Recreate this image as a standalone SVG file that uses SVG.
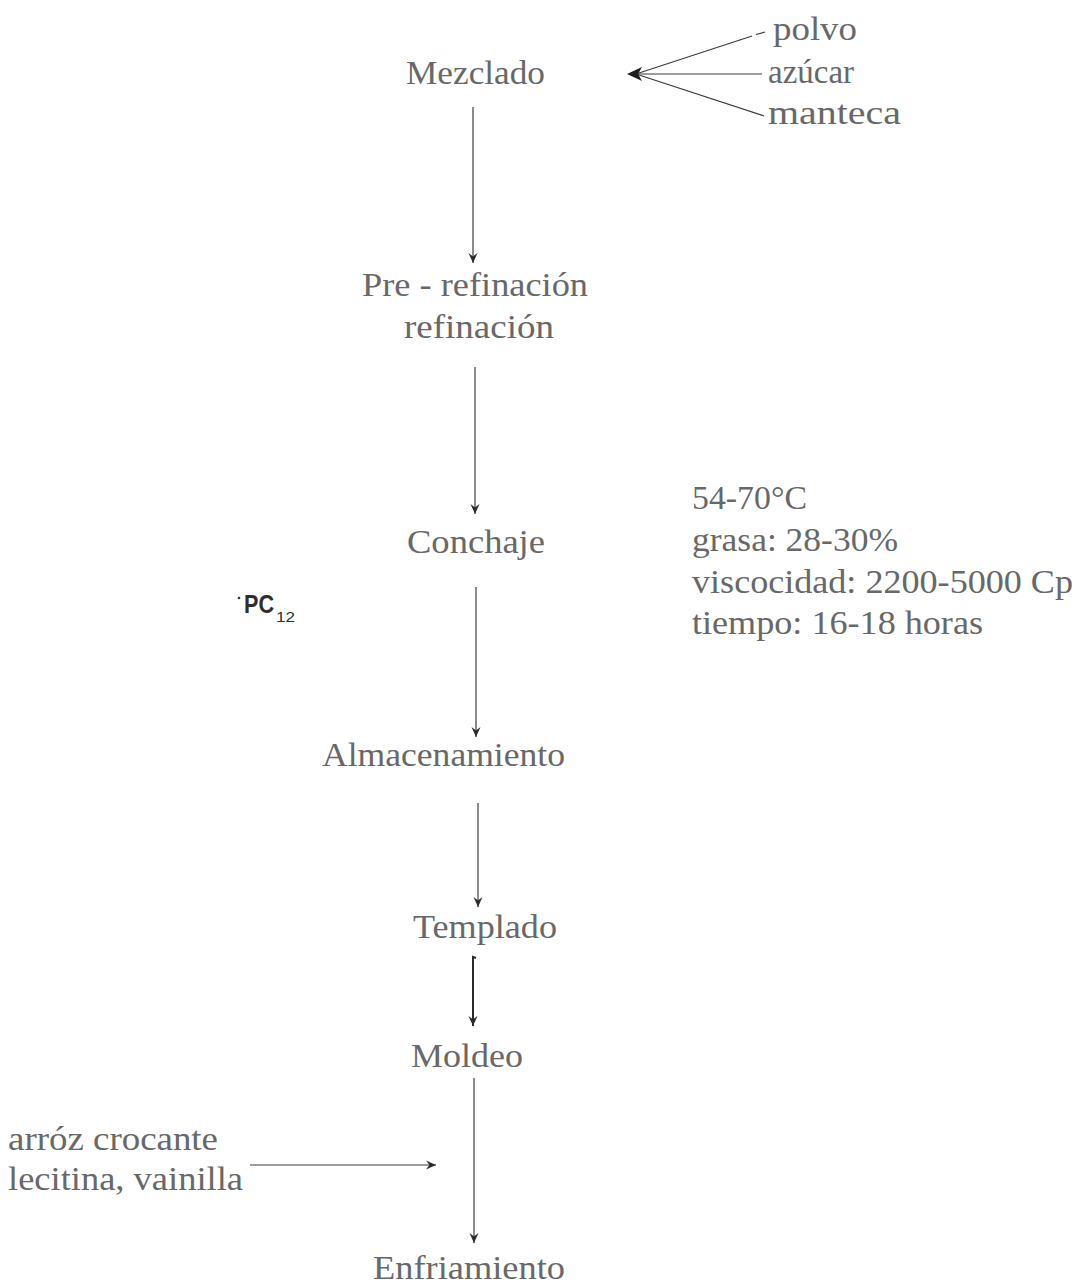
<svg xmlns="http://www.w3.org/2000/svg" width="1082" height="1286" viewBox="0 0 1082 1286">
<defs>
<style>
.t{font-family:"Liberation Serif","Times New Roman",serif;font-size:33px;fill:#686868}
.c{stroke:#3c3c3c;stroke-width:1.2;fill:none}
.b{stroke:#2a2a2a;stroke-width:2;fill:none}
.hw{font-family:"Liberation Sans",Arial,sans-serif;fill:#2e2e2e}
</style>
<marker id="ah" markerUnits="userSpaceOnUse" markerWidth="12" markerHeight="10" refX="10" refY="5" orient="auto">
<path d="M0,0.5 L10,5 L0,9.5 L3.5,5 Z" fill="#2a2a2a"/>
</marker>
</defs>
<rect width="1082" height="1286" fill="#fff"/>
<g id="connectors">
<line class="c" x1="473" y1="107" x2="473" y2="263" marker-end="url(#ah)"/>
<line class="c" x1="475" y1="367" x2="475" y2="514" marker-end="url(#ah)"/>
<line class="c" x1="476" y1="587" x2="476" y2="737" marker-end="url(#ah)"/>
<line class="c" x1="478" y1="803" x2="478" y2="907" marker-end="url(#ah)"/>
<path class="b" d="M476,958 L473,957 L473,1026" marker-end="url(#ah)"/>
<line class="c" x1="474" y1="1078" x2="474" y2="1243" marker-end="url(#ah)"/>
<line class="c" x1="250" y1="1165" x2="436" y2="1165" marker-end="url(#ah)"/>
<line class="c" x1="636" y1="74" x2="752" y2="36"/>
<line class="c" x1="756" y1="34.5" x2="765" y2="32"/>
<line class="c" x1="636" y1="74" x2="762" y2="74"/>
<line class="c" x1="636" y1="74" x2="764" y2="116"/>
<path d="M627,74 L642,67 L638,74 L642,81 Z" fill="#1e1e1e"/>
</g>
<g id="mezclado"><text class="t" x="406" y="84" textLength="139" lengthAdjust="spacingAndGlyphs">Mezclado</text></g>
<g id="polvo"><text class="t" x="773" y="40" textLength="84" lengthAdjust="spacingAndGlyphs">polvo</text></g>
<g id="azucar"><text class="t" x="768" y="83" textLength="86" lengthAdjust="spacingAndGlyphs">azúcar</text></g>
<g id="manteca"><text class="t" x="768" y="124" textLength="133" lengthAdjust="spacingAndGlyphs">manteca</text></g>
<g id="prerefinacion">
<text class="t" x="362" y="296" textLength="226" lengthAdjust="spacingAndGlyphs">Pre - refinación</text>
<text class="t" x="404" y="338" textLength="150" lengthAdjust="spacingAndGlyphs">refinación</text>
</g>
<g id="conchaje"><text class="t" x="407" y="553" textLength="138" lengthAdjust="spacingAndGlyphs">Conchaje</text></g>
<g id="condiciones">
<text class="t" x="692" y="509" textLength="115" lengthAdjust="spacingAndGlyphs">54-70°C</text>
<text class="t" x="692" y="551" textLength="206" lengthAdjust="spacingAndGlyphs">grasa: 28-30%</text>
<text class="t" x="692" y="593" textLength="381" lengthAdjust="spacingAndGlyphs">viscocidad: 2200-5000 Cp</text>
<text class="t" x="692" y="634" textLength="291" lengthAdjust="spacingAndGlyphs">tiempo: 16-18 horas</text>
</g>
<g id="pc12">
<circle cx="239" cy="598" r="1.3" fill="#333"/>
<text class="hw" x="244" y="613" font-size="25" font-weight="bold" textLength="30" lengthAdjust="spacingAndGlyphs">PC</text>
<text class="hw" x="276" y="622" font-size="15" textLength="19" lengthAdjust="spacingAndGlyphs">12</text>
</g>
<g id="almacenamiento"><text class="t" x="322" y="766" textLength="243" lengthAdjust="spacingAndGlyphs">Almacenamiento</text></g>
<g id="templado"><text class="t" x="413" y="938" textLength="144" lengthAdjust="spacingAndGlyphs">Templado</text></g>
<g id="moldeo"><text class="t" x="411" y="1067" textLength="112" lengthAdjust="spacingAndGlyphs">Moldeo</text></g>
<g id="ingredientes">
<text class="t" x="8" y="1150" textLength="210" lengthAdjust="spacingAndGlyphs">arróz crocante</text>
<text class="t" x="8" y="1190" textLength="235" lengthAdjust="spacingAndGlyphs">lecitina, vainilla</text>
</g>
<g id="enfriamiento"><text class="t" x="373" y="1279" textLength="192" lengthAdjust="spacingAndGlyphs">Enfriamiento</text></g>
</svg>
